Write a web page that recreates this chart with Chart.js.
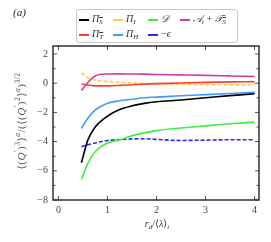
<!DOCTYPE html>
<html><head><meta charset="utf-8">
<script src="https://cdn.jsdelivr.net/npm/chart.js@4/dist/chart.umd.min.js"></script>
<style>
html,body{margin:0;padding:0;background:#fff;}
#wrap{position:relative;width:271px;height:242px;font-family:"Liberation Serif","DejaVu Serif",serif;color:#222;}
canvas{position:absolute;left:0;top:0;}
#legend{position:absolute;left:76px;top:9px;width:160px;height:32px;border:1px solid #c8c8c8;border-radius:3px;background:#fff;font-size:10px;color:#333;}
.li{position:absolute;height:14px;line-height:14px;white-space:nowrap;}
.sw{display:inline-block;width:10px;height:0;vertical-align:middle;margin-right:3px;}
.ov{text-decoration:overline;}
.cal{font-family:"DejaVu Serif",serif;font-style:italic;}
sub{font-size:7px;vertical-align:-2px;}
sup{font-size:7.5px;vertical-align:5px;}
#ylab{position:absolute;left:18px;top:121px;width:120px;height:16px;line-height:16px;text-align:center;margin-left:-60px;margin-top:-8px;transform:rotate(-90deg);white-space:nowrap;font-size:11px;letter-spacing:0.5px;color:#555;}
#xlab{position:absolute;left:157px;top:224px;transform:translate(-50%,-50%);white-space:nowrap;font-size:10px;color:#333;}
#ttl{position:absolute;left:13px;top:6px;font-size:11px;font-style:italic;}
</style></head>
<body><div id="wrap"><canvas id="c" width="271" height="242"></canvas>
<div id="ttl">(a)</div>
<div id="legend"></div>
<div id="ylab">⟨(<i>Q</i><sup>′</sup>)<sup>3</sup>⟩<sup><i>a</i></sup>/(⟨(<i>Q</i><sup>′</sup>)<sup>2</sup>⟩<sup><i>a</i></sup>)<sup>3/2</sup></div>
<div id="xlab"><i>r<sub>d</sub></i>/⟨<i>λ</i>⟩<sub><i>t</i></sub></div>
</div>
<script>
const xVals = [0.47,0.6,0.75,1,1.25,1.5,1.75,2,2.5,3,3.5,4];
const piS   = [-5.45,-3.9,-3.0,-2.25,-1.8,-1.55,-1.38,-1.27,-1.15,-1.0,-0.85,-0.72];
const piT   = [-0.05,-0.12,-0.18,-0.18,-0.15,-0.1,-0.06,-0.03,0.02,0.06,0.09,0.11];
const piI   = [0.7,0.4,0.22,0.12,0.07,0.02,-0.01,-0.04,-0.08,-0.1,-0.11,-0.12];
const piH   = [-3.1,-2.4,-1.85,-1.38,-1.2,-1.1,-1.0,-0.95,-0.86,-0.78,-0.7,-0.62];
const dissD = [-6.6,-5.5,-4.7,-4.1,-3.88,-3.6,-3.4,-3.25,-3.07,-2.92,-2.78,-2.66];
const negEps= [-4.35,-4.22,-4.09,-3.92,-3.86,-3.82,-3.8,-3.85,-3.92,-3.9,-3.87,-3.87];
const advT  = [-0.5,0.05,0.5,0.63,0.64,0.63,0.62,0.6,0.57,0.54,0.5,0.46];
const xTicks = [0,1,2,3,4];
const yTicks = [-8,-7,-6,-5,-4,-3,-2,-1,0,1,2];

const seriesNames = ['Π_S','Π_T','Π_I','Π_H','D','-ε','A_t+T_S'];
const legendHTML = {
 'Π_S':'<i>Π</i><sub><span class="ov"><i>S</i></span></sub>',
 'Π_T':'<i>Π</i><sub><span class="ov"><i>T</i></span></sub>',
 'Π_I':'<i>Π</i><sub><i>I</i></sub>',
 'Π_H':'<i>Π</i><sub><i>H</i></sub>',
 'D':'<span class="cal">𝒟</span>',
 '-ε':'−<i>ϵ</i>',
 'A_t+T_S':'<span class="cal">𝒜</span><sub><i>t</i></sub> + <span class="cal">𝒯</span><sub><span class="ov"><i>S</i></span></sub>'
};
const styles = {
 'Π_S':{c:'#000000',d:[]},
 'Π_T':{c:'#ff3b3b',d:[]},
 'Π_I':{c:'#ffd23c',d:[4,2]},
 'Π_H':{c:'#3d9bff',d:[]},
 'D':{c:'#3cf03c',d:[]},
 '-ε':{c:'#2a2af0',d:[4,2]},
 'A_t+T_S':{c:'#d8399e',d:[]}
};
const values = {'Π_S':piS,'Π_T':piT,'Π_I':piI,'Π_H':piH,'D':dissD,'-ε':negEps,'A_t+T_S':advT};
const legendPos = {
 'Π_S':[2,2],'Π_I':[36,2],'D':[71,2],'A_t+T_S':[103,2],
 'Π_T':[2,17],'Π_H':[36,17],'-ε':[71,17]
};

const datasets = seriesNames.map(n=>({
  label:n,
  data:xVals.map((x,i)=>({x:x,y:values[n][i]})),
  borderColor:styles[n].c,
  borderDash:styles[n].d,
  borderWidth:1.6,
  pointRadius:0,
  fill:false,
  cubicInterpolationMode:'monotone'
}));

const frame = {
  id:'frame',
  afterDraw(chart){
    const ctx=chart.ctx, a=chart.chartArea;
    ctx.save();
    ctx.strokeStyle='#222';ctx.lineWidth=1.4;
    ctx.strokeRect(a.left,a.top,a.right-a.left,a.bottom-a.top);
    ctx.lineWidth=0.8;
    const xs=chart.scales.x, ys=chart.scales.y;
    xTicks.forEach(v=>{const p=xs.getPixelForValue(v);
      ctx.beginPath();ctx.moveTo(p,a.bottom);ctx.lineTo(p,a.bottom-4);ctx.moveTo(p,a.top);ctx.lineTo(p,a.top+4);ctx.stroke();});
    yTicks.forEach(v=>{const p=ys.getPixelForValue(v);const L=(v%2===0)?4:2.5;
      ctx.beginPath();ctx.moveTo(a.left,p);ctx.lineTo(a.left+L,p);ctx.moveTo(a.right,p);ctx.lineTo(a.right-L,p);ctx.stroke();});
    ctx.restore();
  }
};

const chart = new Chart(document.getElementById('c'),{
  type:'line',
  data:{datasets},
  options:{
    responsive:false,animation:false,
    layout:{padding:{left:0,right:12,top:46,bottom:0}},
    plugins:{legend:{display:false},tooltip:{enabled:false}},
    scales:{
      x:{type:'linear',min:-0.11,max:4.09,
        afterBuildTicks:s=>{s.ticks=xTicks.map(v=>({value:v}));},
        afterFit:s=>{s.height=42;},
        grid:{display:false,drawTicks:false},border:{display:false},
        ticks:{padding:4,color:'#444',font:{family:'Liberation Serif',size:10},maxRotation:0,callback:v=>String(v)}},
      y:{type:'linear',min:-8,max:2.55,
        afterBuildTicks:s=>{s.ticks=yTicks.map(v=>({value:v}));},
        afterFit:s=>{s.width=53;},
        grid:{display:false,drawTicks:false},border:{display:false},
        ticks:{padding:5,color:'#444',font:{family:'Liberation Serif',size:10},
          callback:v=>(v%2===0)?(v<0?'−'+Math.abs(v):String(v)):''}}
    }
  },
  plugins:[frame]
});

const lg=document.getElementById('legend');
chart.data.datasets.forEach(ds=>{
  const n=ds.label, p=legendPos[n];
  const el=document.createElement('div');el.className='li';
  el.style.left=p[0]+'px';el.style.top=p[1]+'px';
  const bs = ds.borderDash.length? 'dashed':'solid';
  el.innerHTML='<span class="sw" style="border-top:2px '+bs+' '+ds.borderColor+'"></span>'+legendHTML[n];
  lg.appendChild(el);
});
</script></body></html>
